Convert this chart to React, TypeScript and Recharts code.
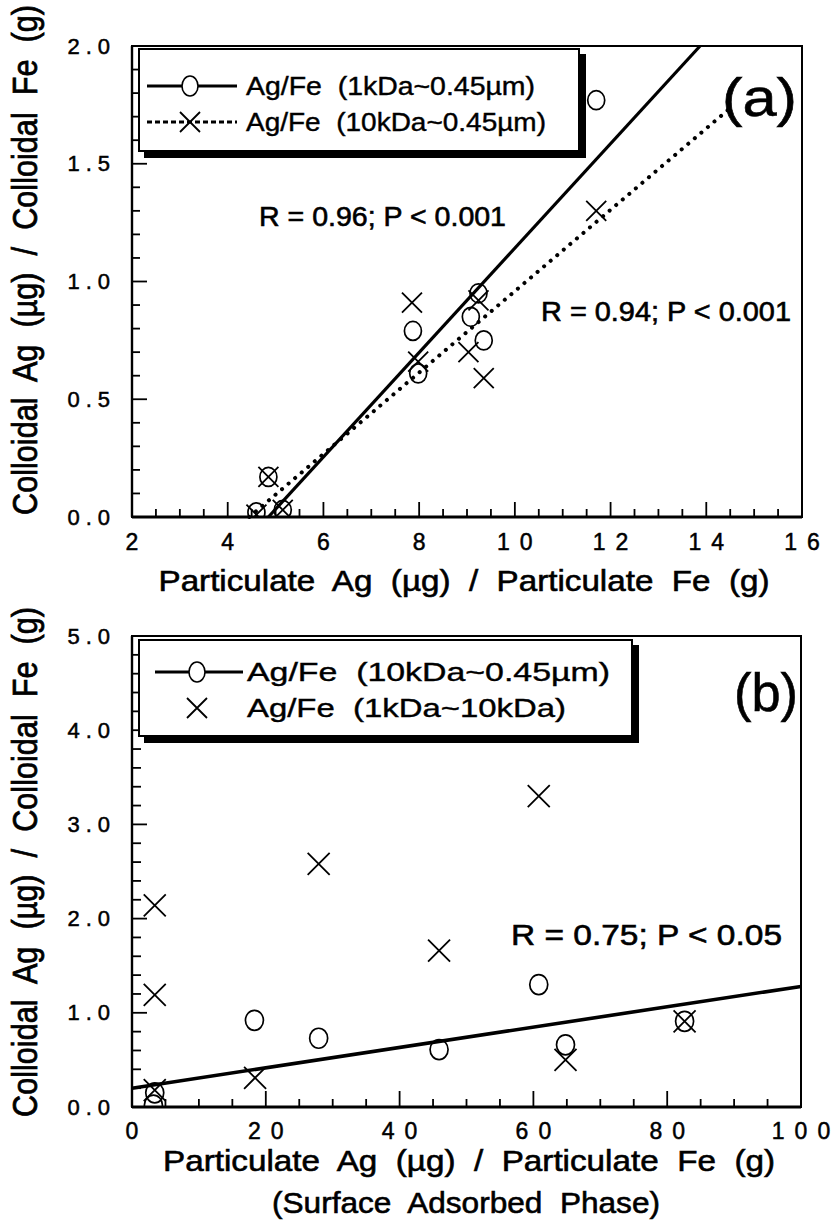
import React from 'react';
import { ScatterChart, Scatter, XAxis, YAxis, ReferenceLine, ReferenceArea, Legend } from 'recharts';

const FONT = '"Liberation Sans", Arial, Helvetica, sans-serif';

// ---------- Panel (a) data ----------
const a1kX = [4.6, 5.15, 4.85, 7.87, 7.98, 9.08, 9.24, 9.35, 11.7];
const a1kY = [0.02, 0.03, 0.17, 0.79, 0.61, 0.85, 0.95, 0.75, 1.77];
const a10kX = [4.6, 5.15, 4.85, 7.85, 7.98, 9.03, 9.24, 9.35, 11.7];
const a10kY = [0.01, 0.03, 0.17, 0.91, 0.66, 0.7, 0.92, 0.59, 1.3];
const aFit1kX = [4.85, 13.87];
const aFit1kY = [0, 2.0];
const aFit10kX = [4.45, 14.55];
const aFit10kY = [0, 1.745];
const aXMajor = [2, 4, 6, 8, 10, 12, 14, 16];
const aXLabels = ['2', '4', '6', '8', '10', '12', '14', '16'];
const aYMajor = [0, 0.5, 1.0, 1.5, 2.0];
const aYLabels = ['0.0', '0.5', '1.0', '1.5', '2.0'];

// ---------- Panel (b) data ----------
const b10kX = [3.2, 3.4, 18.3, 27.9, 45.9, 60.8, 64.8, 82.6];
const b10kY = [0.02, 0.15, 0.92, 0.73, 0.61, 1.3, 0.66, 0.91];
const b1kX = [3.4, 3.4, 3.4, 18.4, 27.9, 45.9, 60.8, 64.8, 82.6];
const b1kY = [2.14, 1.19, 0.18, 0.31, 2.58, 1.66, 3.3, 0.5, 0.91];
const bFitX = [0, 100];
const bFitY = [0.2, 1.28];
const bXMajor = [0, 20, 40, 60, 80, 100];
const bXLabels = ['0', '20', '40', '60', '80', '100'];
const bYMajor = [0, 1, 2, 3, 4, 5];
const bYLabels = ['0.0', '1.0', '2.0', '3.0', '4.0', '5.0'];

const zip = (xs: number[], ys: number[]) => xs.map((x, i) => ({ x, y: ys[i] }));

const range = (a: number, b: number, step: number) => {
  const out: number[] = [];
  const n = Math.round((b - a) / step);
  for (let i = 0; i <= n; i++) out.push(Math.round((a + i * step) * 1000) / 1000);
  return out;
};

const labelWidth = (s: string, fs: number, gap: number) => {
  let w = 0;
  for (const c of s) w += (c === '.' ? 0.278 : 0.556) * fs;
  return w + (s.length - 1) * gap;
};

const makeXTick = (majors: number[], labels: string[], majorLen: number, minorLen: number, dy: number, gap: number) =>
  (props: any) => {
    const { x, y, payload } = props;
    const idx = majors.findIndex((m) => Math.abs(m - payload.value) < 1e-6);
    const major = idx >= 0;
    return (
      <g>
        <line x1={x} x2={x} y1={y} y2={y - (major ? majorLen : minorLen)} stroke="#000" strokeWidth={1.8} />
        {major && (
          <text
            x={x}
            y={y + dy}
            textAnchor="middle"
            dominantBaseline="central"
            fontFamily={FONT}
            fontSize={23}
            fill="#000"
            stroke="#000"
            strokeWidth={0.5}
            textLength={labels[idx].length > 1 ? labelWidth(labels[idx], 23, gap) : undefined}
            lengthAdjust="spacing"
          >
            {labels[idx]}
          </text>
        )}
      </g>
    );
  };

const makeYTick = (majors: number[], labels: string[], majorLen: number, minorLen: number, dx: number, gap: number) =>
  (props: any) => {
    const { x, y, payload } = props;
    const idx = majors.findIndex((m) => Math.abs(m - payload.value) < 1e-6);
    const major = idx >= 0;
    return (
      <g>
        <line x1={x} x2={x + (major ? majorLen : minorLen)} y1={y} y2={y} stroke="#000" strokeWidth={1.8} />
        {major && (
          <text
            x={x - dx}
            y={y}
            textAnchor="end"
            dominantBaseline="central"
            fontFamily={FONT}
            fontSize={22}
            fill="#000"
            stroke="#000"
            strokeWidth={0.5}
            textLength={labelWidth(labels[idx], 22, gap)}
            lengthAdjust="spacing"
          >
            {labels[idx]}
          </text>
        )}
      </g>
    );
  };

const circleShape = (rx: number, ry: number) => (props: any) => (
  <ellipse cx={props.cx} cy={props.cy} rx={rx} ry={ry} fill="none" stroke="#000" strokeWidth={1.7} />
);
const crossShape = (h: number) => (props: any) => (
  <path
    d={`M${props.cx - h},${props.cy - h}L${props.cx + h},${props.cy + h}M${props.cx - h},${props.cy + h}L${props.cx + h},${props.cy - h}`}
    stroke="#000"
    strokeWidth={1.8}
    fill="none"
  />
);

const LegendA = () => (
  <div style={{ width: 442, height: 104, border: '2.5px solid #000', background: '#fff', boxShadow: '6px 6px 0 #000', boxSizing: 'border-box' }}>
    <svg width={437} height={99} style={{ display: 'block' }}>
      <g fontFamily={FONT} fill="#000" stroke="#000" strokeWidth={0.4}>
        <text x={106} y={36} dominantBaseline="central" fontSize={25} xmlSpace="preserve" textLength={289} lengthAdjust="spacingAndGlyphs">
          {'Ag/Fe  (1kDa~0.45\u00b5m)'}
        </text>
        <text x={106} y={72} dominantBaseline="central" fontSize={25} xmlSpace="preserve" textLength={300} lengthAdjust="spacingAndGlyphs">
          {'Ag/Fe  (10kDa~0.45\u00b5m)'}
        </text>
      </g>
      <line x1={7} x2={97} y1={36} y2={36} stroke="#000" strokeWidth={2.8} />
      <ellipse cx={50} cy={36} rx={8} ry={10} fill="#fff" stroke="#000" strokeWidth={1.6} />
      <line x1={7} x2={97} y1={72} y2={72} stroke="#000" strokeWidth={2.8} strokeDasharray="5 3" />
      <path d="M40,62L60,82M40,82L60,62" stroke="#000" strokeWidth={1.8} fill="none" />
    </svg>
  </div>
);

const LegendB = () => (
  <div style={{ width: 495, height: 98, border: '2.5px solid #000', background: '#fff', boxShadow: '6px 6px 0 #000', boxSizing: 'border-box' }}>
    <svg width={490} height={93} style={{ display: 'block' }}>
      <g fontFamily={FONT} fill="#000" stroke="#000" strokeWidth={0.4}>
        <text x={107} y={31} dominantBaseline="central" fontSize={26} xmlSpace="preserve" textLength={363} lengthAdjust="spacingAndGlyphs">
          {'Ag/Fe  (10kDa~0.45\u00b5m)'}
        </text>
        <text x={107} y={67} dominantBaseline="central" fontSize={26} xmlSpace="preserve" textLength={319} lengthAdjust="spacingAndGlyphs">
          {'Ag/Fe  (1kDa~10kDa)'}
        </text>
      </g>
      <line x1={15} x2={103} y1={31} y2={31} stroke="#000" strokeWidth={2.8} />
      <ellipse cx={57} cy={31} rx={8} ry={10} fill="#fff" stroke="#000" strokeWidth={1.6} />
      <path d="M47,57L67,77M47,77L67,57" stroke="#000" strokeWidth={1.8} fill="none" />
    </svg>
  </div>
);

const ChartA = () => (
  <ScatterChart width={832} height={600} margin={{ top: 46, right: 30, left: 72, bottom: 43 }}>
    <XAxis
      type="number"
      dataKey="x"
      domain={[2, 16]}
      ticks={range(2, 16, 0.5)}
      interval={0}
      tickSize={0}
      tickMargin={0}
      tickLine={false}
      height={40}
      axisLine={{ stroke: '#000', strokeWidth: 3 }}
      tick={makeXTick(aXMajor, aXLabels, 15, 8, 25, 10)}
      allowDataOverflow
    />
    <YAxis
      type="number"
      dataKey="y"
      domain={[0, 2]}
      ticks={range(0, 2, 0.1)}
      interval={0}
      tickSize={0}
      tickMargin={0}
      tickLine={false}
      width={60}
      axisLine={{ stroke: '#000', strokeWidth: 2.4 }}
      tick={makeYTick(aYMajor, aYLabels, 15, 8, 22, 6)}
      allowDataOverflow
    />
    <ReferenceArea x1={2} x2={16} y1={0} y2={2} fill="none" fillOpacity={0} stroke="#000" strokeWidth={2} />
    <ReferenceLine segment={zip(aFit1kX, aFit1kY)} stroke="#000" strokeWidth={3.2} />
    <ReferenceLine
      segment={zip(aFit10kX, aFit10kY)}
      stroke="#000"
      strokeWidth={4}
      strokeDasharray="0.1 8.5"
      strokeLinecap="round"
    />
    <Scatter name="1k" data={zip(a1kX, a1kY)} shape={circleShape(8.5, 9.5)} isAnimationActive={false} />
    <Scatter name="10k" data={zip(a10kX, a10kY)} shape={crossShape(10)} isAnimationActive={false} />
    <Legend
      layout="horizontal"
      verticalAlign="middle"
      align="center"
      content={() => <LegendA />}
      wrapperStyle={{ position: 'absolute', left: 138, top: 48, width: 442, height: 104 }}
    />
  </ScatterChart>
);

const ChartB = () => (
  <ScatterChart width={832} height={620} margin={{ top: 36, right: 31, left: 72, bottom: 73 }}>
    <XAxis
      type="number"
      dataKey="x"
      domain={[0, 100]}
      ticks={range(0, 100, 5)}
      interval={0}
      tickSize={0}
      tickMargin={0}
      tickLine={false}
      height={40}
      axisLine={{ stroke: '#000', strokeWidth: 3 }}
      tick={makeXTick(bXMajor, bXLabels, 16, 8, 24, 10)}
      allowDataOverflow
    />
    <YAxis
      type="number"
      dataKey="y"
      domain={[0, 5]}
      ticks={range(0, 5, 0.2)}
      interval={0}
      tickSize={0}
      tickMargin={0}
      tickLine={false}
      width={60}
      axisLine={{ stroke: '#000', strokeWidth: 2.4 }}
      tick={makeYTick(bYMajor, bYLabels, 15, 9, 22, 6)}
      allowDataOverflow
    />
    <ReferenceArea x1={0} x2={100} y1={0} y2={5} fill="none" fillOpacity={0} stroke="#000" strokeWidth={2} />
    <ReferenceLine segment={zip(bFitX, bFitY)} stroke="#000" strokeWidth={3.6} />
    <Scatter name="10k" data={zip(b10kX, b10kY)} shape={circleShape(9, 10)} isAnimationActive={false} />
    <Scatter name="1k" data={zip(b1kX, b1kY)} shape={crossShape(11)} isAnimationActive={false} />
    <Legend
      layout="horizontal"
      verticalAlign="middle"
      align="center"
      content={() => <LegendB />}
      wrapperStyle={{ position: 'absolute', left: 138, top: 39, width: 495, height: 98 }}
    />
  </ScatterChart>
);

const yTitle = 'Colloidal  Ag  (\u00b5g)  /  Colloidal  Fe  (g)';
const xTitle = 'Particulate  Ag  (\u00b5g)  /  Particulate  Fe  (g)';

const Overlay = () => (
  <svg width={832} height={1220} style={{ position: 'absolute', left: 0, top: 0, pointerEvents: 'none' }}>
    <g fontFamily={FONT} fill="#000" stroke="#000" strokeWidth={0.6}>
      <text transform="translate(25,260) scale(1.3,1) rotate(-90)" textAnchor="middle" dominantBaseline="central" fontSize={27} xmlSpace="preserve" textLength={510} lengthAdjust="spacingAndGlyphs">{yTitle}</text>
      <text transform="translate(25,862) scale(1.3,1) rotate(-90)" textAnchor="middle" dominantBaseline="central" fontSize={27} xmlSpace="preserve" textLength={510} lengthAdjust="spacingAndGlyphs">{yTitle}</text>
      <text x={464} y={580} textAnchor="middle" dominantBaseline="central" fontSize={30} xmlSpace="preserve" textLength={611} lengthAdjust="spacingAndGlyphs">{xTitle}</text>
      <text x={469} y={1160} textAnchor="middle" dominantBaseline="central" fontSize={30} xmlSpace="preserve" textLength={612} lengthAdjust="spacingAndGlyphs">{xTitle}</text>
      <text x={466} y={1202} textAnchor="middle" dominantBaseline="central" fontSize={30} xmlSpace="preserve" textLength={388} lengthAdjust="spacingAndGlyphs">{'(Surface  Adsorbed  Phase)'}</text>
      <text x={259} y={217} dominantBaseline="central" fontSize={27} textLength={247} lengthAdjust="spacingAndGlyphs">R = 0.96; P &lt; 0.001</text>
      <text x={541} y={312} dominantBaseline="central" fontSize={27} textLength={250} lengthAdjust="spacingAndGlyphs">R = 0.94; P &lt; 0.001</text>
      <text x={511} y={934} dominantBaseline="central" fontSize={30} textLength={271} lengthAdjust="spacingAndGlyphs">R = 0.75; P &lt; 0.05</text>
      <text x={722} y={97} dominantBaseline="central" fontSize={54} textLength={75} lengthAdjust="spacingAndGlyphs">(a)</text>
      <text x={734} y={692} dominantBaseline="central" fontSize={54} textLength={64} lengthAdjust="spacingAndGlyphs">(b)</text>
    </g>
  </svg>
);

export default function App() {
  return (
    <div style={{ position: 'absolute', left: 0, top: 0, width: 832, height: 1220, background: '#fff' }}>
      <div style={{ position: 'absolute', left: 0, top: 0 }}>
        <ChartA />
      </div>
      <div style={{ position: 'absolute', left: 0, top: 600 }}>
        <ChartB />
      </div>
      <Overlay />
    </div>
  );
}
